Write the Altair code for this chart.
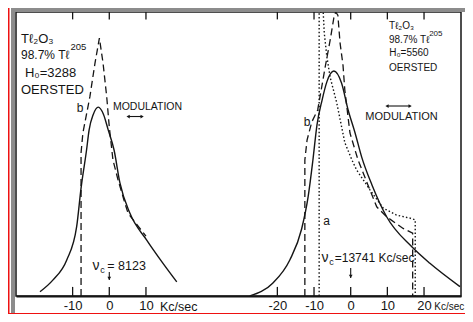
import altair as alt
import pandas as pd

# x positions in kc/sec from the centre frequency of each panel; y in arbitrary intensity units (0-100)
OFFSET = 65.83  # where the right panel's zero sits on the shared axis (left-panel units)

# Left panel: H0 = 3288 Oe, nu_c = 8123
left_solid_x = [-18.9, -15.4, -11.6, -8.9, -7.7, -6.2, -5.5, -4.4, -3.0, -1.6, -0.3, 1.3, 2.9, 5.6, 10.2, 14.6, 18.4]
left_solid_y = [1.5, 5.6, 12.7, 24.4, 38.0, 51.4, 58.5, 63.8, 66.5, 64.0, 58.5, 51.4, 39.8, 29.2, 19.7, 11.6, 5.0]
left_dash_x = [-7.7, -7.7, -7.2, -5.3, -3.9, -2.7, -1.7, -0.7, 0.0, 1.0, 2.4, 4.0, 5.1, 7.6, 10.0]
left_dash_y = [0, 50.4, 57.4, 70.1, 82.0, 90.8, 82.0, 70.1, 59.5, 47.9, 40.8, 33.8, 29.2, 25.0, 21.1]

# Right panel: H0 = 5560 Oe, nu_c = 13741 kc/sec
right_solid_x = [-27.5, -21.2, -16.6, -13.4, -11.6, -10.3, -9.2, -7.8, -6.5, -4.6, -2.5, -0.7, 1.2, 3.0, 5.8, 9.8, 16.6, 21.6, 29.8]
right_solid_y = [0, 4.6, 12.7, 23.5, 35.0, 47.9, 60.2, 69.0, 75.4, 79.2, 75.0, 65.5, 57.4, 48.9, 39.1, 27.9, 17.4, 11.5, 3.3]
right_dash_x = [-12.5, -12.5, -11.9, -10.6, -9.0, -7.0, -5.6, -4.6, -4.1, -3.5, -2.9, -2.1, -1.6, -0.2, 2.0, 4.7, 7.1, 9.8, 14.3, 16.9, 16.9]
right_dash_y = [0, 47.9, 54.9, 61.3, 65.5, 80.3, 90.1, 97.9, 100.0, 98.9, 89.1, 81.3, 72.5, 57.4, 47.9, 39.1, 31.4, 27.9, 23.8, 22.1, 0]
right_dot_x = [-8.6, -8.6, -7.5, -7.2, -6.5, -5.6, -3.8, -1.6, 0.3, 1.6, 5.3, 8.9, 12.5, 16.2, 17.6, 17.6]
right_dot_y = [0, 100, 100, 92.5, 84.3, 77.0, 68.0, 54.0, 48.0, 44.4, 37.3, 30.9, 28.5, 27.4, 26.8, 0]

left_ticks = [-10, 0, 10]
right_ticks = [-20, -10, 0, 10, 20]


def shift(panel):
    return 0.0 if panel == "L" else OFFSET


rows = []
for panel, style, xs, ys in [
    ("L", "solid", left_solid_x, left_solid_y),
    ("L", "dash", left_dash_x, left_dash_y),
    ("R", "solid", right_solid_x, right_solid_y),
    ("R", "dash", right_dash_x, right_dash_y),
    ("R", "dot", right_dot_x, right_dot_y),
]:
    for i, (x, y) in enumerate(zip(xs, ys)):
        rows.append(dict(series=panel + style, style=style, i=i, pos=x + shift(panel), y=y))
curves = pd.DataFrame(rows)

tick_rows = []
for panel, tl in [("L", left_ticks), ("R", right_ticks)]:
    for t in tl:
        tick_rows.append(dict(pos=t + shift(panel), y=0, y2=3.2))
        tick_rows.append(dict(pos=t + shift(panel), y=100, y2=97.4))
ticks = pd.DataFrame(tick_rows)
tick_values = [float(t) for t in left_ticks] + [round(t + OFFSET, 2) for t in right_ticks]

# annotations: text, panel, kc position, y, size, align
ann = [
    ("Tℓ₂O₃", "L", -24.08, 90.5, 13, "left"),
    ("98.7% Tℓ", "L", -24.08, 84.9, 12, "left"),
    ("205", "L", -10.6, 87.7, 9.5, "left"),
    ("H₀=3288", "L", -22.99, 78.5, 13, "left"),
    ("OERSTED", "L", -24.08, 72.5, 13, "left"),
    ("b", "L", -7.99, 66.2, 12, "center"),
    ("MODULATION", "L", 10.42, 66.6, 10.5, "center"),
    ("ν", "L", -3.63, 10.6, 14, "center"),
    ("c", "L", -1.85, 9.0, 9, "center"),
    ("= 8123", "L", -0.55, 10.6, 12.5, "left"),
    ("Kc/sec", "L", 13.83, -3.8, 12.5, "left"),
    ("Tℓ₂O₃", "R", 10.44, 95.1, 10, "left"),
    ("98.7% Tℓ", "R", 10.44, 90.1, 10, "left"),
    ("205", "R", 21.4, 92.3, 8, "left"),
    ("H₀=5560", "R", 10.5, 85.6, 10, "left"),
    ("OERSTED", "R", 10.44, 80.3, 10, "left"),
    ("MODULATION", "R", 13.85, 63.1, 11, "center"),
    ("b", "R", -11.92, 61.3, 12, "center"),
    ("a", "R", -6.55, 26.5, 12, "center"),
    ("ν", "R", -7.01, 13.4, 14, "center"),
    ("c", "R", -5.24, 11.8, 9, "center"),
    ("=13741 Kc/sec", "R", -4.35, 13.4, 12, "left"),
    ("Kc/sec", "R", 22.8, -3.8, 10, "left"),
]
texts = pd.DataFrame(
    [dict(text=t, pos=x + shift(p), y=y, size=s, align=a) for t, p, x, y, s, a in ann]
)

# small arrows: modulation (double headed, horizontal) and nu_c markers (pointing down)
h_arrows = [("L", 5.13, 8.95, 63.2), ("R", 9.9, 16.2, 66.9)]
v_arrows = [("L", 0.0, 8.45, 5.6), ("R", 0.0, 9.86, 6.3)]
harr = pd.DataFrame([dict(pos=a + shift(p), pos2=b + shift(p), y=y) for p, a, b, y in h_arrows])
heads = pd.DataFrame(
    [dict(pos=a + shift(p), y=y, shape="triangle-left") for p, a, b, y in h_arrows]
    + [dict(pos=b + shift(p), y=y, shape="triangle-right") for p, a, b, y in h_arrows]
    + [dict(pos=x + shift(p), y=y2 + 0.6, shape="triangle-down") for p, x, y1, y2 in v_arrows]
)
varr = pd.DataFrame([dict(pos=x + shift(p), y=y1, y2=y2) for p, x, y1, y2 in v_arrows])

FONT = "Liberation Sans"
INK = "#151515"

xscale = alt.Scale(domain=[-25.44, 95.91], nice=False, zero=False)
yscale = alt.Scale(domain=[0, 100], nice=False, zero=False)
xaxis = alt.Axis(
    values=tick_values,
    labelExpr="datum.value > 30 ? '' + round(datum.value - %s) : '' + round(datum.value)" % OFFSET,
    tickSize=0, grid=False, title=None, domain=True, domainColor=INK, domainWidth=2,
    labelFont=FONT, labelFontSize=13, labelColor=INK, labelPadding=3,
)


def X(f="pos"):
    return alt.X(f + ":Q", scale=xscale, axis=xaxis)


def Y(f="y"):
    return alt.Y(f + ":Q", scale=yscale, axis=None)


base = alt.Chart(curves)
solid = base.transform_filter(alt.datum.style == "solid").mark_line(
    color=INK, strokeWidth=1.4, interpolate="monotone").encode(x=X(), y=Y(), detail="series:N", order="i:Q")
dash = base.transform_filter(alt.datum.style == "dash").mark_line(
    color=INK, strokeWidth=1.3, strokeDash=[7, 4]).encode(x=X(), y=Y(), detail="series:N", order="i:Q")
dot = base.transform_filter(alt.datum.style == "dot").mark_line(
    color=INK, strokeWidth=1.4, strokeDash=[1.5, 2.2]).encode(x=X(), y=Y(), detail="series:N", order="i:Q")

tick_layer = alt.Chart(ticks).mark_rule(color=INK, strokeWidth=1.3).encode(x=X(), y=Y(), y2="y2:Q")
harr_layer = alt.Chart(harr).mark_rule(color=INK, strokeWidth=1.1).encode(x=X(), x2="pos2:Q", y=Y())
varr_layer = alt.Chart(varr).mark_rule(color=INK, strokeWidth=1.1).encode(x=X(), y=Y(), y2="y2:Q")
head_layer = alt.Chart(heads).mark_point(filled=True, color=INK, size=14, opacity=1).encode(
    x=X(), y=Y(), shape=alt.Shape("shape:N", scale=None))

layers = [solid, dash, dot, tick_layer, harr_layer, varr_layer, head_layer]
for al in ["left", "center"]:
    for sz in sorted(set(texts["size"])):
        sub = texts[(texts["align"] == al) & (texts["size"] == sz)]
        if len(sub) == 0:
            continue
        layers.append(
            alt.Chart(sub).mark_text(font=FONT, fontSize=float(sz), align=al, baseline="middle", color=INK)
            .encode(x=X(), y=Y(), text="text:N")
        )

# slide frame around the scanned figure (pixels relative to the plot area)
one = pd.DataFrame({"k": [0]})


def band(x, x2, y, y2, color):
    return alt.Chart(one).mark_rect(color=color).encode(
        x=alt.value(x), x2=alt.value(x2), y=alt.value(y), y2=alt.value(y2))


layers += [
    band(-5, -1, -4, 301, "#8c8c8c"),
    band(-5, 449, -4, 0, "#8c8c8c"),
    band(-8, -6.5, -4, 302, "#ee1111"),
    band(-8, 449, 301, 302, "#ee1111"),
]

chart = alt.layer(*layers).properties(
    width=445, height=284,
    autosize=alt.AutoSizeParams(type="none"),
    padding={"left": 8, "top": 4, "right": 4, "bottom": 18},
    background="white",
).configure_view(stroke=INK, strokeWidth=1.5)

chart.save("out.html", embed_options={"renderer": "svg", "actions": False})
